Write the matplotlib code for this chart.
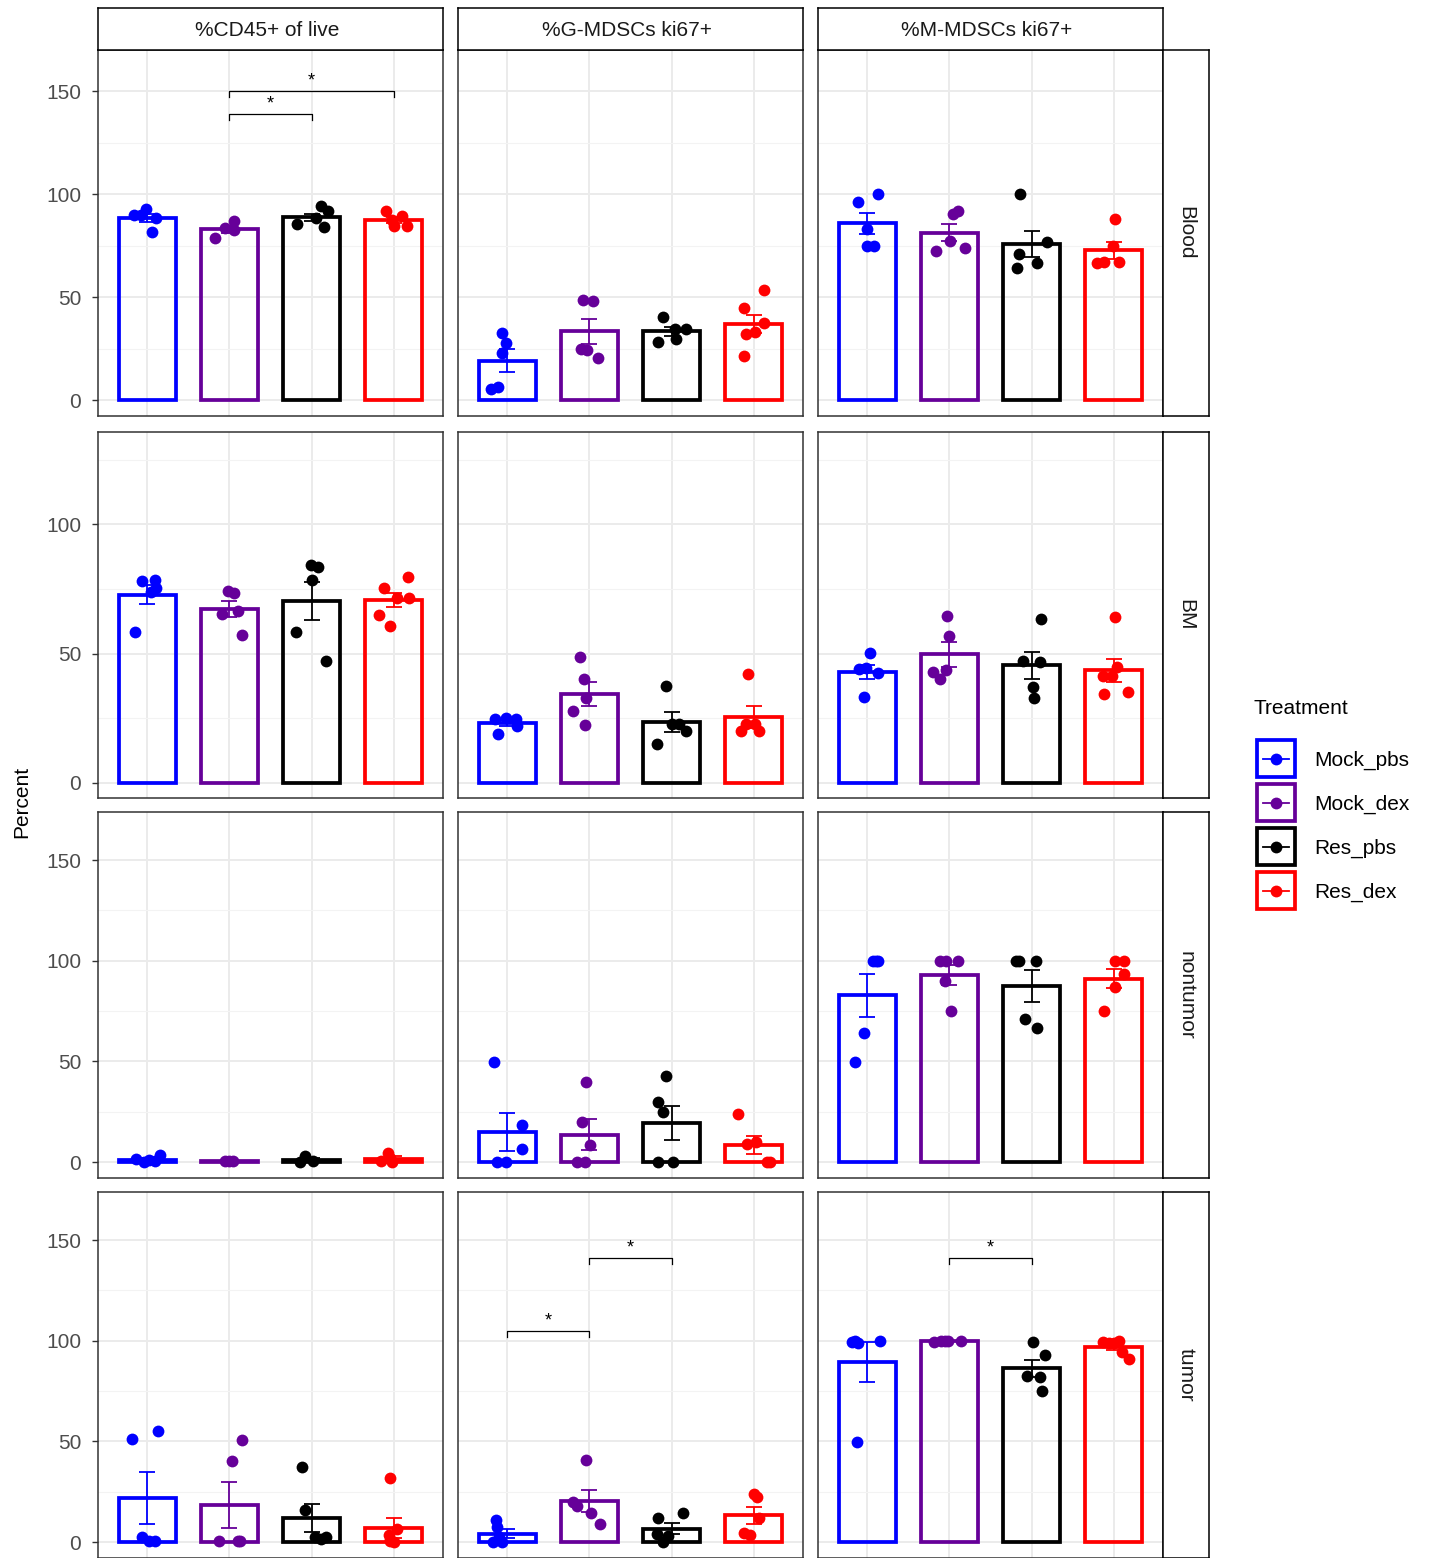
import numpy as np
import matplotlib.pyplot as plt
from matplotlib.patches import Rectangle

plt.rcParams['font.family'] = ['Liberation Sans', 'DejaVu Sans']

treatments = ['Mock_pbs', 'Mock_dex', 'Res_pbs', 'Res_dex']
colors = ['#0000FF', '#660099', '#000000', '#FF0000']
measures = ['%CD45+ of live', '%G-MDSCs ki67+', '%M-MDSCs ki67+']
tissues = ['Blood', 'BM', 'nontumor', 'tumor']

# percent per mouse, one list per treatment (Mock_pbs, Mock_dex, Res_pbs, Res_dex)
blood_cd45 = [[90, 92.7, 88.4, 81.5, 89.8], [78.5, 83.5, 86.8, 82.4], [85.5, 94, 91.6, 88.4, 84], [91.6, 89.2, 84.7, 84.4, 87.6]]
blood_gmdsc = [[32.7, 27.9, 23, 5.6, 6.5], [48.4, 48.2, 25, 24.4, 20.6], [40.3, 28.2, 34.4, 34.4, 29.8], [53.4, 44.7, 37.3, 33.1, 32.3, 21.5]]
blood_mmdsc = [[96.1, 100, 83.1, 74.7, 74.7], [90.5, 91.6, 77.1, 72.6, 73.9], [100, 76.8, 71.1, 64.2, 66.3], [87.9, 75, 66.6, 66.9, 66.9]]
bm_cd45 = [[78.2, 78.5, 75.2, 73.9, 58.2], [74.3, 73.3, 65.2, 66.6, 57.2], [84.3, 83.4, 78.5, 58.2, 47.2], [79.7, 75.5, 71.7, 71.7, 64.9, 60.8]]
bm_gmdsc = [[24.9, 25.3, 24.9, 22.1, 19.1], [48.6, 40.1, 32.9, 27.7, 22.6], [37.4, 22.7, 22.7, 20.1, 15], [42.3, 23, 23, 20, 20]]
bm_mmdsc = [[50.1, 44, 44.3, 42.7, 33.3], [64.6, 56.9, 43, 43.6, 40.4], [63.4, 47.1, 46.8, 37.2, 32.9], [64.3, 44.9, 41.4, 41.4, 34.6, 35]]
nt_cd45 = [[1.5, 0.1, 0.4, 3.3, 1.0], [0.5, 0.3, 0.5], [0, 3, 0.5], [0.5, 4.6, 0, 2]]
nt_gmdsc = [[49.8, 18.4, 6.6, 0, 0], [39.9, 20, 8.4, 0, 0], [42.7, 30, 25, 0, 0], [23.7, 9.1, 10.1, 0, 0]]
nt_mmdsc = [[100, 100, 100, 64.2, 49.8], [100, 100, 100, 89.9, 75], [100, 100, 100, 70.9, 66.4], [100, 100, 93.2, 86.9, 75]]
tu_cd45 = [[51.1, 55.4, 2.5, 0.5, 0.5], [50.9, 40.5, 0.3, 0.3, 0.3], [37.2, 16, 2.5, 2.5, 1.6], [31.7, 6.6, 3.3, 1, 0.5, 0]]
tu_gmdsc = [[11.2, 7.4, 0, 0, 2.5], [41, 19.8, 17.9, 14.4, 9.1], [12.1, 14.4, 4.1, 0, 3], [24, 22.3, 11.9, 4.5, 3.6]]
tu_mmdsc = [[99.2, 98.7, 100, 100, 49.9], [99.5, 100, 100, 99.7, 99.8], [99.2, 93, 82.6, 82.1, 75.2], [99.2, 100, 98.8, 94.2, 90.9, 99]]

# horizontal jitter of each dot
blood_cd45_dx = [[-0.16, -0.01, 0.11, 0.06, -0.08], [-0.17, -0.05, 0.05, 0.06], [-0.18, 0.11, 0.2, 0.05, 0.15], [-0.1, 0.1, 0, 0.16, -0.02]]
blood_gmdsc_dx = [[-0.06, -0.02, -0.07, -0.2, -0.11], [-0.08, 0.04, -0.1, -0.03, 0.11], [-0.1, -0.17, 0.04, 0.18, 0.05], [0.12, -0.12, 0.13, 0.01, -0.1, -0.12]]
blood_mmdsc_dx = [[-0.11, 0.13, 0, 0, 0.08], [0.04, 0.1, 0.01, -0.16, 0.19], [-0.14, 0.19, -0.15, -0.18, 0.06], [0.02, -0.01, -0.2, -0.12, 0.07]]
bm_cd45_dx = [[-0.07, 0.09, 0.1, 0.04, -0.15], [-0.02, 0.06, -0.09, 0.1, 0.15], [-0.01, 0.08, 0, -0.19, 0.17], [0.17, -0.12, 0.18, 0.04, -0.18, -0.04]]
bm_gmdsc_dx = [[-0.15, -0.02, 0.11, 0.12, -0.11], [-0.11, -0.07, -0.04, -0.2, -0.05], [-0.07, 0, 0.09, 0.18, -0.18], [-0.07, -0.1, 0.02, -0.16, 0.06]]
bm_mmdsc_dx = [[0.03, -0.1, -0.01, 0.13, -0.04], [-0.03, -0.01, -0.2, -0.04, -0.11], [0.11, -0.1, 0.1, 0.02, 0.03], [0.02, 0.04, -0.13, -0.02, -0.12, 0.17]]
nt_cd45_dx = [[-0.14, -0.04, 0.09, 0.16, 0.02], [-0.06, 0, 0.04], [-0.14, -0.08, 0.02], [-0.16, -0.07, -0.02, -0.05]]
nt_gmdsc_dx = [[-0.16, 0.18, 0.18, -0.12, -0.02], [-0.04, -0.09, 0.01, -0.15, -0.06], [-0.07, -0.16, -0.11, -0.16, 0.02], [-0.19, -0.08, 0.03, 0.16, 0.2]]
nt_mmdsc_dx = [[0.07, 0.13, 0.1, -0.04, -0.15], [-0.12, -0.04, 0.11, -0.06, 0.02], [-0.19, 0.05, -0.15, -0.08, 0.07], [0.02, 0.12, 0.12, 0.02, -0.12]]
tu_cd45_dx = [[-0.19, 0.13, -0.06, 0.02, 0.09], [0.15, 0.03, -0.13, 0.13, 0.1], [-0.12, -0.08, 0.04, 0.18, 0.12], [-0.05, 0.04, -0.06, -0.05, -0.04, 0]]
tu_gmdsc_dx = [[-0.14, -0.12, -0.18, -0.06, -0.1], [-0.04, -0.2, -0.15, 0.02, 0.13], [-0.16, 0.14, -0.18, -0.1, -0.04], [0, 0.04, 0.07, -0.12, -0.05]]
tu_mmdsc_dx = [[-0.19, -0.11, -0.15, 0.16, -0.13], [-0.19, -0.1, -0.02, 0.14, -0.05], [0.02, 0.16, -0.05, 0.1, 0.13], [-0.13, 0.07, 0, 0.1, 0.18, -0.06]]

# significance brackets: (group a, group b, height)
blood_cd45_sig = [(2, 3, 139), (2, 4, 150)]
tu_gmdsc_sig = [(1, 2, 105), (2, 3, 141)]
tu_mmdsc_sig = [(2, 3, 141)]

panels = [
    [(blood_cd45, blood_cd45_dx, blood_cd45_sig), (blood_gmdsc, blood_gmdsc_dx, []), (blood_mmdsc, blood_mmdsc_dx, [])],
    [(bm_cd45, bm_cd45_dx, []), (bm_gmdsc, bm_gmdsc_dx, []), (bm_mmdsc, bm_mmdsc_dx, [])],
    [(nt_cd45, nt_cd45_dx, []), (nt_gmdsc, nt_gmdsc_dx, []), (nt_mmdsc, nt_mmdsc_dx, [])],
    [(tu_cd45, tu_cd45_dx, []), (tu_gmdsc, tu_gmdsc_dx, tu_gmdsc_sig), (tu_mmdsc, tu_mmdsc_dx, tu_mmdsc_sig)],
]
row_ylim = [(-7.7, 169.9), (-5.8, 135.7), (-7.9, 173.9), (-7.9, 173.9)]
row_ticks = [[0, 50, 100, 150], [0, 50, 100], [0, 50, 100, 150], [0, 50, 100, 150]]

W, H = 1431, 1558
fig = plt.figure(figsize=(W / 100, H / 100), dpi=100)


def px_axes(x, y, w, h):
    return fig.add_axes([x / W, 1 - (y + h) / H, w / W, h / H])


col_left = [98, 458, 818]
row_top = [50, 432, 812, 1192]
pw, ph = 345, 366
xs = np.arange(1, 5)

for r in range(4):
    for c in range(3):
        vals, dxs, sigs = panels[r][c]
        ax = px_axes(col_left[c], row_top[r], pw, ph)
        ax.set_xlim(0.4, 4.6)
        ax.set_ylim(*row_ylim[r])
        ax.set_yticks(row_ticks[r])
        ax.set_yticks([25, 75, 125], minor=True)
        ax.set_xticks(xs)
        ax.set_xticklabels([])
        ax.grid(True, which='major', color='#EBEBEB', lw=1.4, zorder=0)
        ax.grid(True, which='minor', axis='y', color='#F3F3F3', lw=0.8, zorder=0)
        ax.tick_params(axis='x', length=0)
        ax.tick_params(axis='y', which='minor', length=0)
        if c == 0:
            ax.tick_params(axis='y', which='major', length=4, width=1, color='#333333',
                           labelsize=15, labelcolor='#4D4D4D', pad=8)
        else:
            ax.tick_params(axis='y', which='major', length=0, labelleft=False)
        for s in ax.spines.values():
            s.set_color('#333333')
            s.set_linewidth(1.1)
        for i in range(4):
            v = np.array(vals[i])
            m = v.mean()
            se = v.std(ddof=1) / np.sqrt(len(v))
            ax.bar(xs[i], m, width=0.7, facecolor='none', edgecolor=colors[i], lw=2.7, zorder=2)
            ax.errorbar(xs[i], m, yerr=se, color=colors[i], lw=1.3, capsize=5.5, capthick=1.3, zorder=3)
            ax.plot(xs[i] + np.array(dxs[i]), v, 'o', color=colors[i], ms=8.5, mec='none', zorder=4)
        tick = 0.017 * (row_ylim[r][1] - row_ylim[r][0])
        for a, b, yb in sigs:
            ax.plot([a, a, b, b], [yb - tick, yb, yb, yb - tick], color='black', lw=0.9, zorder=3)
            ax.text((a + b) / 2, yb + 0.8, '*', ha='center', va='bottom', fontsize=13)
        ax.set_axisbelow(True)

# top strips
for c in range(3):
    sx = px_axes(col_left[c], 8, pw, 42)
    sx.set_xticks([])
    sx.set_yticks([])
    for s in sx.spines.values():
        s.set_linewidth(1.1)
    sx.text(0.49, 0.47, measures[c], ha='center', va='center', fontsize=15, color='#1A1A1A',
            transform=sx.transAxes)

# right strips
for r in range(4):
    sx = px_axes(1163, row_top[r], 46, ph)
    sx.set_xticks([])
    sx.set_yticks([])
    for s in sx.spines.values():
        s.set_linewidth(1.1)
    sx.text(0.5, 0.5, tissues[r], ha='center', va='center', fontsize=15, color='#1A1A1A',
            rotation=270, transform=sx.transAxes)

fig.text(22 / W, 1 - 802 / H, 'Percent', rotation=90, ha='center', va='center', fontsize=15)

# legend
lg = px_axes(1240, 690, 191, 230)
lg.set_xlim(1240, 1431)
lg.set_ylim(920, 690)
lg.axis('off')
lg.text(1254, 709, 'Treatment', ha='left', va='center', fontsize=15)
for i, name in enumerate(treatments):
    yt = 740 + 44 * i
    lg.add_patch(Rectangle((1257, yt), 38, 37, facecolor='none', edgecolor=colors[i], lw=2.7))
    lg.plot([1263, 1289], [yt + 18.5, yt + 18.5], color=colors[i], lw=1.3)
    lg.plot([1276], [yt + 18.5], 'o', color=colors[i], ms=8.5, mec='none')
    lg.text(1314, yt + 20, name, ha='left', va='center', fontsize=15)

fig.savefig('out.png', dpi=100)
